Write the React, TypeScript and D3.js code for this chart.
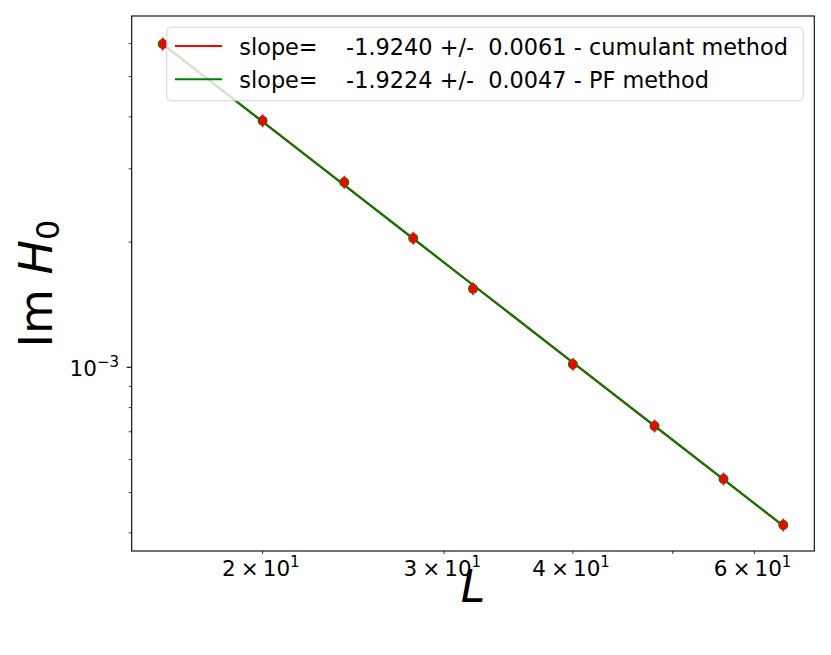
import React from 'react';
import * as d3 from 'd3';

const sizes = [16, 20, 24, 28, 32, 40, 48, 56, 64];
const cumulantValues = [5.986e-3, 3.915e-3, 2.785e-3, 2.042e-3, 1.545e-3, 1.017e-3, 7.228e-4, 5.388e-4, 4.177e-4];
const pfValues = [5.986e-3, 3.915e-3, 2.785e-3, 2.042e-3, 1.545e-3, 1.017e-3, 7.228e-4, 5.388e-4, 4.177e-4];
const cumulantErrors = [8e-5, 5e-5, 3.5e-5, 2.5e-5, 2e-5, 1.3e-5, 9e-6, 7e-6, 5e-6];

// power-law fits  y = amp * L^slope
const cumulantFit = { slope: -1.924, err: 0.0061, amp: 1.2411, label: 'cumulant method' };
const pfFit = { slope: -1.9224, err: 0.0047, amp: 1.2342, label: 'PF method' };

const xTickValues = [20, 30, 40, 50, 60];
const xTickLabels = ['2', '3', '4', '', '6'];
const yMajorTicks = [1e-3];
const yMinorTicks = [4e-4, 5e-4, 6e-4, 7e-4, 8e-4, 9e-4, 2e-3, 3e-3, 4e-3, 5e-3, 6e-3];
const yDomain: [number, number] = [3.618e-4, 6.99e-3];

const W = 831;
const H = 655;
const plot = { left: 131.7, right: 814.3, top: 16, bottom: 551 };
const font = 'DejaVu Sans, sans-serif';

const App: React.FC = () => {
    const pad = Math.pow(sizes[sizes.length - 1] / sizes[0], 0.05);
    const x = d3.scaleLog()
        .domain([sizes[0] / pad, sizes[sizes.length - 1] * pad])
        .range([plot.left, plot.right]);
    const y = d3.scaleLog().domain(yDomain).range([plot.bottom, plot.top]);

    const fitLine = (fit: typeof cumulantFit) => d3.line<number>()
        .x(d => x(d))
        .y(d => y(fit.amp * Math.pow(d, fit.slope)))(sizes) as string;

    const legendText = (fit: typeof cumulantFit) =>
        `slope=    ${fit.slope.toFixed(4)} +/-  ${fit.err.toFixed(4)} - ${fit.label}`;

    const diamond = (cx: number, cy: number) => {
        const hw = 4.2, hh = 7;
        return `M${cx},${cy - hh}L${cx + hw},${cy}L${cx},${cy + hh}L${cx - hw},${cy}Z`;
    };

    return (
        <svg width={W} height={H} style={{ position: 'absolute', left: 0, top: 0, background: '#fff' }}
            fontFamily={font}>
            <rect x={0} y={0} width={W} height={H} fill="#fff" />

            {/* fit lines */}
            <path d={fitLine(cumulantFit)} fill="none" stroke="#ff0000" strokeWidth={2.1} />
            <path d={fitLine(pfFit)} fill="none" stroke="#008000" strokeWidth={2.1} />

            {/* PF points */}
            {sizes.map((L, i) => (
                <circle key={'pf' + L} cx={x(L)} cy={y(pfValues[i])} r={5} fill="#008000" />
            ))}
            {/* cumulant points with error bars */}
            {sizes.map((L, i) => (
                <g key={'cu' + L}>
                    <line x1={x(L)} x2={x(L)}
                        y1={y(cumulantValues[i] - cumulantErrors[i])}
                        y2={y(cumulantValues[i] + cumulantErrors[i])}
                        stroke="#ff0000" strokeWidth={1.5} />
                    <path d={diamond(x(L), y(cumulantValues[i]))} fill="#ff0000" />
                </g>
            ))}

            {/* axes frame */}
            <rect x={plot.left} y={plot.top} width={plot.right - plot.left} height={plot.bottom - plot.top}
                fill="none" stroke="#000" strokeWidth={1.1} />

            {/* x ticks */}
            {xTickValues.map((v, i) => (
                <g key={'xt' + v}>
                    <line x1={x(v)} x2={x(v)} y1={plot.bottom} y2={plot.bottom + 3} stroke="#000" strokeWidth={0.8} />
                    {xTickLabels[i] !== '' && (
                        <text x={x(v) - 1.8} y={576} textAnchor="middle" fontSize={21.5} fill="#000">
                            <tspan>{xTickLabels[i]}</tspan>
                            <tspan dx={5}>×</tspan>
                            <tspan dx={4}>10</tspan>
                            <tspan fontSize={15} dy={-9.5}>1</tspan>
                        </text>
                    )}
                </g>
            ))}

            {/* y ticks */}
            {yMinorTicks.map(v => (
                <line key={'ym' + v} x1={plot.left - 3} x2={plot.left} y1={y(v)} y2={y(v)} stroke="#000" strokeWidth={0.8} />
            ))}
            {yMajorTicks.map(v => (
                <g key={'yM' + v}>
                    <line x1={plot.left - 5} x2={plot.left} y1={y(v)} y2={y(v)} stroke="#000" strokeWidth={1.1} />
                    <text x={119} y={y(v) + 9} textAnchor="end" fontSize={21.5} fill="#000">
                        10<tspan fontSize={15} dy={-9.5}>−3</tspan>
                    </text>
                </g>
            ))}

            {/* axis labels */}
            <text x={(plot.left + plot.right) / 2} y={602} textAnchor="middle" fontSize={44}
                fontStyle="italic" fill="#000">L</text>
            <text transform={`translate(52,${(plot.top + plot.bottom) / 2}) rotate(-90)`} textAnchor="middle"
                fontSize={46} fill="#000">
                Im <tspan fontStyle="italic">H</tspan><tspan fontSize={32} dy={7}>0</tspan>
            </text>

            {/* legend */}
            <rect x={166.7} y={27.3} width={636.6} height={73.4} rx={4} fill="#fff" fillOpacity={0.8}
                stroke="#cccccc" strokeOpacity={0.8} strokeWidth={1} />
            {[cumulantFit, pfFit].map((fit, i) => (
                <g key={'lg' + i}>
                    <line x1={175} x2={222} y1={46 + i * 33.3} y2={46 + i * 33.3}
                        stroke={i === 0 ? '#ff0000' : '#008000'} strokeWidth={2.1} />
                    <text x={239.3} y={55 + i * 33.3} fontSize={22.4} fill="#000" style={{ whiteSpace: 'pre' }}>
                        {legendText(fit)}
                    </text>
                </g>
            ))}
        </svg>
    );
};

export default App;
